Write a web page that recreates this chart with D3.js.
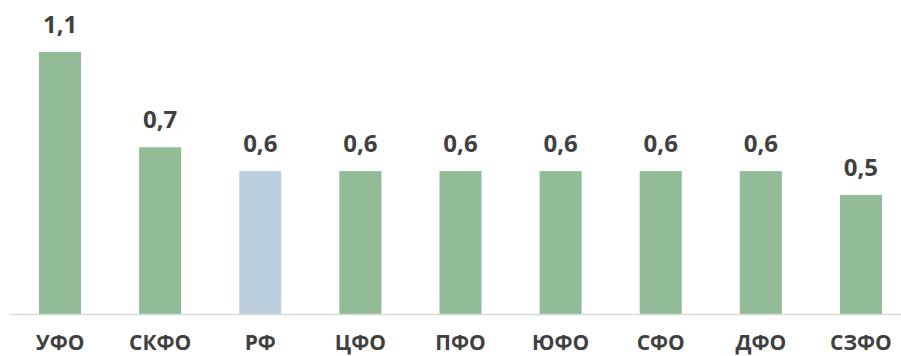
<!DOCTYPE html>
<html lang="ru">
<head>
<meta charset="UTF-8" />
<title>bars</title>
<style>
  body { margin: 0; background: #fff; }
  text { font-family: "Open Sans", sans-serif; font-weight: bold; fill: #404040; }
</style>
</head>
<body>
<div id="chart"></div>
<script src="https://d3js.org/d3.v7.min.js"></script>
<script>
// data
const regions = ["УФО", "СКФО", "РФ", "ЦФО", "ПФО", "ЮФО", "СФО", "ДФО", "СЗФО"];
const values = [1.1, 0.7, 0.6, 0.6, 0.6, 0.6, 0.6, 0.6, 0.5];
const valueLabels = ["1,1", "0,7", "0,6", "0,6", "0,6", "0,6", "0,6", "0,6", "0,5"];
const highlight = ["РФ"];

const width = 901, height = 356;

const svg = d3.select("#chart").append("svg")
  .attr("width", width)
  .attr("height", height);

const x = d3.scaleBand()
  .domain(regions)
  .range([10, 911])
  .paddingInner(0.58)
  .paddingOuter(0.29);

const y = d3.scaleLinear()
  .domain([0, 1.1])
  .range([314, 52]);

// bars
svg.selectAll("rect.bar")
  .data(regions)
  .enter()
  .append("rect")
  .attr("class", "bar")
  .attr("x", d => x(d))
  .attr("width", x.bandwidth())
  .attr("y", (d, i) => y(values[i]))
  .attr("height", (d, i) => y(0) - y(values[i]))
  .attr("fill", d => highlight.includes(d) ? "#bccfdf" : "#92bc98");

// baseline
svg.append("line")
  .attr("x1", 10).attr("x2", width)
  .attr("y1", y(0) + 0.5).attr("y2", y(0) + 0.5)
  .attr("stroke", "#d9d9d9")
  .attr("stroke-width", 1.5);

// value labels
svg.selectAll("text.val")
  .data(regions)
  .enter()
  .append("text")
  .attr("class", "val")
  .attr("x", d => x(d) + x.bandwidth() / 2)
  .attr("y", (d, i) => y(values[i]) - 19)
  .attr("text-anchor", "middle")
  .style("font-size", "24px")
  .text((d, i) => valueLabels[i]);

// category labels
const xAxis = svg.append("g")
  .attr("transform", "translate(0," + y(0) + ")")
  .call(d3.axisBottom(x).tickSize(0).tickPadding(0));
xAxis.select(".domain").remove();
xAxis.selectAll("text")
  .attr("dy", null)
  .attr("y", 36)
  .style("font-size", "21px")
  .style("font-family", "'Open Sans', sans-serif")
  .style("font-weight", "bold")
  .attr("fill", "#404040");
</script>
</body>
</html>
